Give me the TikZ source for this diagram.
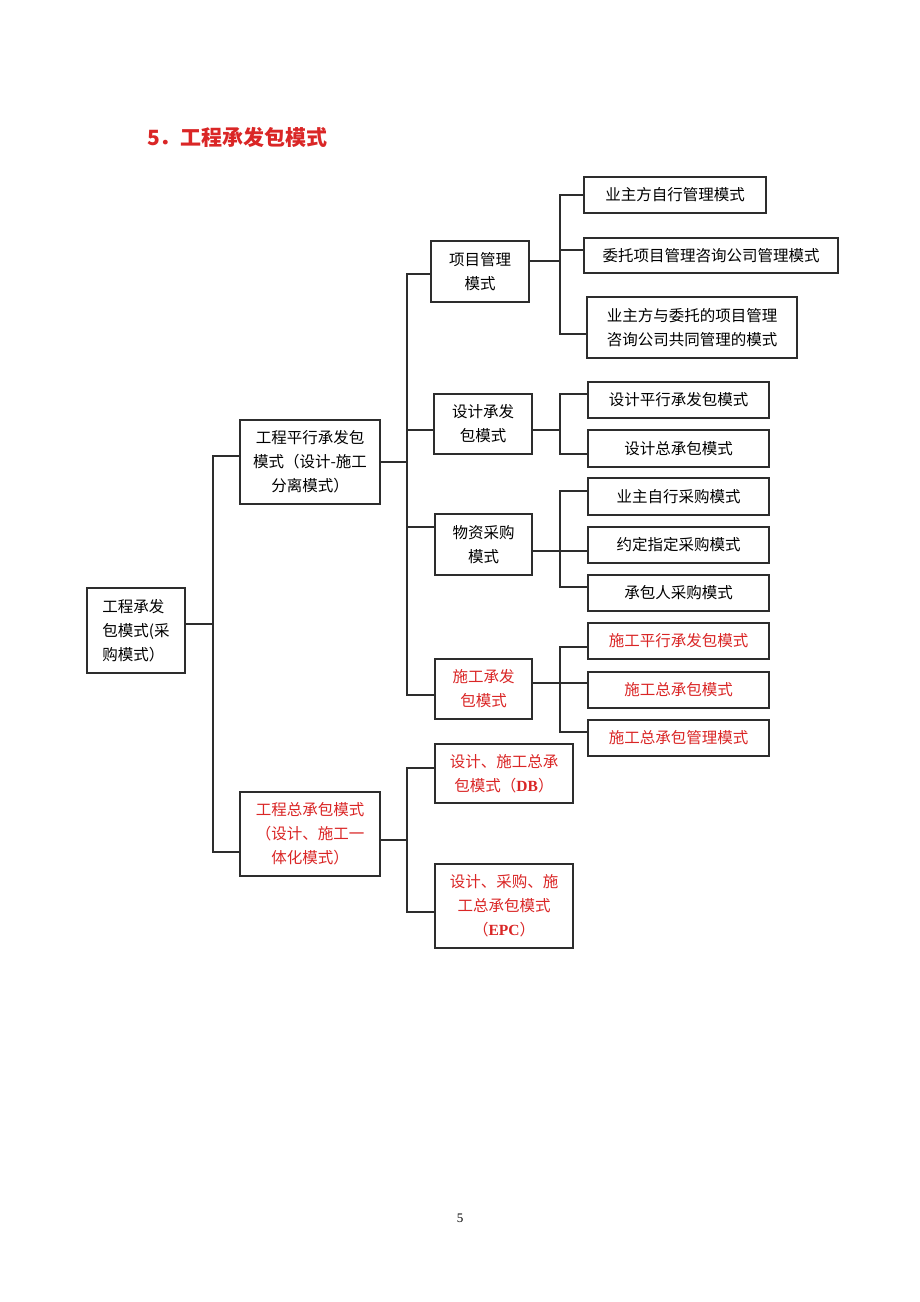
\documentclass[tikz,border=0pt]{standalone}
\usepackage{fontspec}
\setmainfont{Noto Sans CJK SC}
\newfontfamily\tnr{Liberation Serif}
\definecolor{redtxt}{RGB}{218,38,38}
\definecolor{linecol}{RGB}{45,45,45}
\begin{document}
\begin{tikzpicture}[x=1pt,y=-1pt,
  bx/.style={draw=linecol, line width=1.3pt, inner sep=0pt, align=center,
    font=\fontsize{15.5}{24}\selectfont, text=black},
  redbx/.style={bx, text=redtxt},
  conn/.style={draw=linecol, line width=1.3pt}]
\useasboundingbox (0,0) rectangle (920,1302);
\fill[white] (0,0) rectangle (920,1302);
% title
\node[anchor=base west, inner sep=0, text=redtxt, font=\bfseries\fontsize{21}{24}\selectfont] (title) at (147,145) {5．工程承发包模式};
% page number
\node[anchor=base, inner sep=0, font=\tnr\fontsize{13}{15}\selectfont] (pg) at (460,1222) {5};
% boxes
\node[bx, minimum width=98, minimum height=85, align=left] (root) at (136,630.5) {工程承发\\包模式(采\\购模式）};
\node[bx, minimum width=140, minimum height=84] (A) at (310,462) {工程平行承发包\\模式（设计-施工\\分离模式）};
\node[redbx, minimum width=140, minimum height=84] (B) at (310,834) {工程总承包模式\\（设计、施工一\\体化模式）};
\node[bx, minimum width=98, minimum height=61] (P1) at (480,271.5) {项目管理\\模式};
\node[bx, minimum width=98, minimum height=60] (P2) at (483,424) {设计承发\\包模式};
\node[bx, minimum width=97, minimum height=61] (P3) at (483.5,544.5) {物资采购\\模式};
\node[redbx, minimum width=97, minimum height=60] (P4) at (483.5,689) {施工承发\\包模式};
\node[redbx, minimum width=138, minimum height=59] (DB) at (504,773.5) {设计、施工总承\\包模式（{\tnr\bfseries DB}）};
\node[redbx, minimum width=138, minimum height=84] (EPC) at (504,906) {设计、采购、施\\工总承包模式\\（{\tnr\bfseries EPC}）};
\node[bx, minimum width=182, minimum height=36] (L1) at (675,195) {业主方自行管理模式};
\node[bx, minimum width=254, minimum height=35] (L2) at (711,255.5) {委托项目管理咨询公司管理模式};
\node[bx, minimum width=210, minimum height=61] (L3) at (692,327.5) {业主方与委托的项目管理\\咨询公司共同管理的模式};
\node[bx, minimum width=181, minimum height=36] (D1) at (678.5,400) {设计平行承发包模式};
\node[bx, minimum width=181, minimum height=37] (D2) at (678.5,448.5) {设计总承包模式};
\node[bx, minimum width=181, minimum height=37] (M1) at (678.5,496.5) {业主自行采购模式};
\node[bx, minimum width=181, minimum height=36] (M2) at (678.5,545) {约定指定采购模式};
\node[bx, minimum width=181, minimum height=36] (M3) at (678.5,593) {承包人采购模式};
\node[redbx, minimum width=181, minimum height=36] (S1) at (678.5,641) {施工平行承发包模式};
\node[redbx, minimum width=181, minimum height=36] (S2) at (678.5,690) {施工总承包模式};
\node[redbx, minimum width=181, minimum height=36] (S3) at (678.5,738) {施工总承包管理模式};
% bus coordinates
\coordinate (r1) at (213,624);
\coordinate (a1) at (407,462);
\coordinate (b1) at (407,840);
\coordinate (p1) at (560,261);
\coordinate (p2) at (560,430);
\coordinate (p3) at (560,551);
\coordinate (p4) at (560,683);
% root level
\draw[conn] (root.east |- r1) -- (r1);
\draw[conn] (A.west |- 0,456) -- (213,456) -- (213,852) -- (B.west |- 0,852);
% A level
\draw[conn] (A.east |- a1) -- (a1);
\draw[conn] (P1.west |- 0,274) -- (407,274) -- (407,695) -- (P4.west |- 0,695);
\draw[conn] (407,430) -- (P2.west |- 0,430);
\draw[conn] (407,527) -- (P3.west |- 0,527);
% B level
\draw[conn] (B.east |- b1) -- (b1);
\draw[conn] (DB.west |- 0,768) -- (407,768) -- (407,912) -- (EPC.west |- 0,912);
% P1 leaves
\draw[conn] (P1.east |- p1) -- (p1);
\draw[conn] (L1.west |- 0,195) -- (560,195) -- (560,334) -- (L3.west |- 0,334);
\draw[conn] (560,250) -- (L2.west |- 0,250);
% P2 leaves
\draw[conn] (P2.east |- p2) -- (p2);
\draw[conn] (D1.west |- 0,394) -- (560,394) -- (560,454) -- (D2.west |- 0,454);
% P3 leaves
\draw[conn] (P3.east |- p3) -- (p3);
\draw[conn] (M1.west |- 0,491) -- (560,491) -- (560,587) -- (M3.west |- 0,587);
\draw[conn] (p3) -- (M2.west |- p3);
% P4 leaves
\draw[conn] (P4.east |- p4) -- (p4);
\draw[conn] (S1.west |- 0,647) -- (560,647) -- (560,732) -- (S3.west |- 0,732);
\draw[conn] (p4) -- (S2.west |- p4);
\end{tikzpicture}
\end{document}
